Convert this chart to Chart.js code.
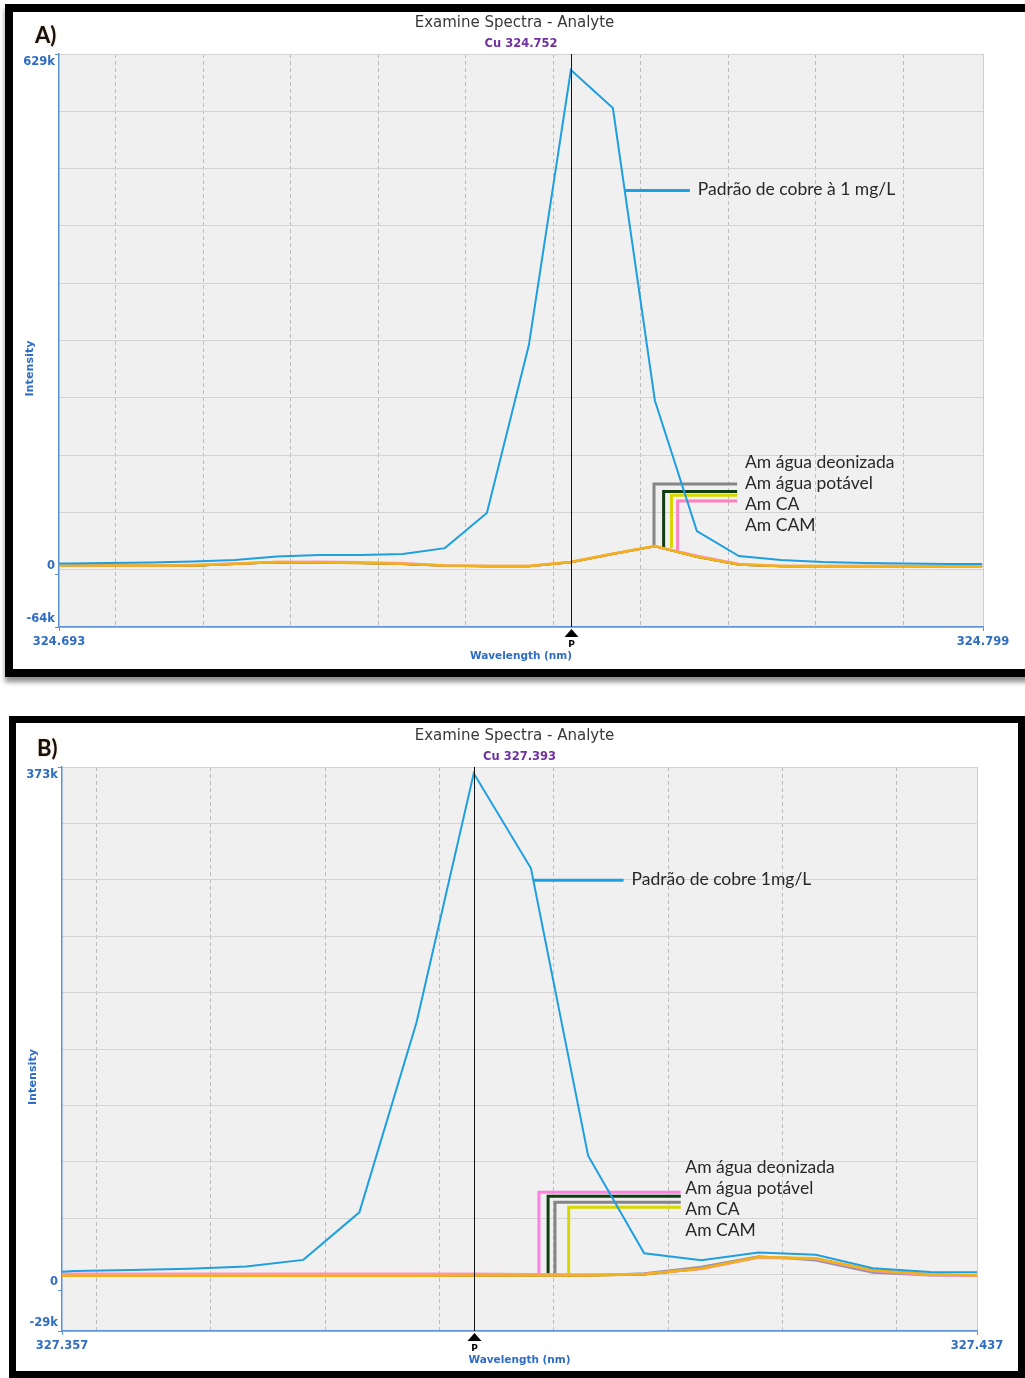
<!DOCTYPE html>
<html>
<head>
<meta charset="utf-8">
<title>Examine Spectra - Analyte</title>
<script src="https://cdn.jsdelivr.net/npm/chart.js@4.4.1/dist/chart.umd.min.js"></script>
<style>
  html, body { margin: 0; padding: 0; background: #fff; }
  #page { position: relative; width: 1025px; height: 1378px; overflow: hidden; background: #fff; }
  .frame { position: absolute; box-sizing: border-box; border: 8px solid #000; background: #fff; }
  #frameA { left: 5px; top: 4px; width: 1040px; height: 673px; box-shadow: 0 5px 5px rgba(0,0,0,0.45); }
  #frameB { left: 9px; top: 716px; width: 1016px; height: 662px; border-width: 7px; }
  canvas { position: absolute; left: 0; }
  #chartA { top: 0; }
  #chartB { top: 690px; }
</style>
</head>
<body>
<div id="page">
  <div class="frame" id="frameA"></div>
  <div class="frame" id="frameB"></div>
  <canvas id="chartA" width="1025" height="690"></canvas>
  <canvas id="chartB" width="1025" height="688"></canvas>
</div>
<script>
// ---------- Panel A : Cu 324.752 nm ----------
const waveA = [324.6930, 324.6944, 324.6992, 324.7040, 324.7088, 324.7136, 324.7184, 324.7232,
               324.7280, 324.7328, 324.7376, 324.7424, 324.7472, 324.7520, 324.7568, 324.7616,
               324.7664, 324.7712, 324.7760, 324.7808, 324.7856, 324.7904, 324.7952, 324.7990];
const padraoA = [12700, 12700, 13300, 13900, 15100, 16900, 21200, 23000,
                 23000, 24200, 31400, 73800, 277000, 609600, 563600, 210000,
                 52000, 21800, 16900, 14500, 13300, 12700, 12100, 12100];
const deonizadaA = [10000, 10000, 10000, 10000, 10000, 12200, 14200, 13600,
                    13200, 12200, 10000, 9400, 9400, 14200, 24200, 33600,
                    20700, 11200, 9400, 9400, 9400, 9400, 9400, 9400];
const potavelA = [10100, 10100, 10100, 10100, 10100, 12300, 14300, 13700,
                  13300, 12300, 10100, 9500, 9500, 14300, 24300, 33700,
                  20800, 11300, 9500, 9500, 9500, 9500, 9500, 9500];
const caA = [10300, 10300, 10300, 10300, 10300, 12500, 14500, 13900,
             13500, 12500, 10300, 9700, 9700, 14500, 24500, 33900,
             21000, 11500, 9700, 9700, 9700, 9700, 9700, 9700];
const camA = [10300, 10300, 10300, 10300, 11000, 12800, 14700, 14800,
              14300, 13000, 10500, 9700, 9700, 14500, 24500, 33600,
              22200, 12100, 9800, 9700, 9700, 9700, 9700, 9700];
const xRangeA = [324.6935, 324.7991];
const xLabelsA = ['324.693', '324.799'];
const xGridA = [324.70, 324.71, 324.72, 324.73, 324.74, 324.75, 324.76, 324.77, 324.78, 324.79];
const yTicksA = [-64000, 0, 629000];
const yLabelsA = ['-64k', '0', '629k'];

// ---------- Panel B : Cu 327.393 nm ----------
const waveB = [327.3570, 327.3581, 327.3631, 327.3681, 327.3731, 327.3781, 327.3830, 327.3880, 327.3930,
               327.3980, 327.4030, 327.4079, 327.4129, 327.4179, 327.4229, 327.4279, 327.4329, 327.4370];
const padraoB = [13200, 13700, 14500, 15300, 17000, 21700, 55600, 191000, 368500,
                 300800, 96000, 26400, 21400, 26900, 25400, 15700, 13000, 12800];
const deonizadaB = [11800, 11800, 11800, 11800, 11800, 11800, 11800, 11800, 11800,
                    11500, 11200, 11600, 15200, 23300, 22500, 13900, 11000, 10500];
const potavelB = [10200, 10200, 10200, 10200, 10200, 10200, 10200, 10200, 10400,
                  10500, 10500, 11300, 15400, 23600, 22600, 14100, 11200, 10600];
const caB = [10200, 10200, 10200, 10200, 10200, 10200, 10200, 10200, 10400,
             10500, 10600, 12200, 16800, 24200, 21200, 12600, 10500, 10300];
const camB = [10300, 10300, 10300, 10300, 10300, 10300, 10300, 10300, 10500,
              10600, 10600, 11400, 15500, 23700, 22800, 14300, 11400, 10700];
const xRangeB = [327.357, 327.437];
const xLabelsB = ['327.357', '327.437'];
const xGridB = [327.36, 327.37, 327.38, 327.39, 327.40, 327.41, 327.42, 327.43];
const yTicksB = [-29000, 0, 373000];
const yLabelsB = ['-29k', '0', '373k'];

// ---------- shared styling ----------
const AXIS_BLUE = '#5b92d6';
const LABEL_BLUE = '#2f6cc4';
const FAMILY = '"DejaVu Sans", Verdana, sans-serif';
const TICK_FONT = { family: FAMILY, weight: 'bold', size: 11.5, lineHeight: 1.4 };
const NOTE_FONT = '17.5px Lato, "Open Sans", sans-serif';

function toPoints(xs, ys) { return xs.map((x, i) => ({ x: x, y: ys[i] })); }

function decor(p) {
  return {
    id: 'decor',
    beforeDraw(chart) {
      const { ctx, chartArea: a } = chart;
      ctx.save();
      ctx.fillStyle = '#f0f0f0';
      ctx.fillRect(a.left, a.top, a.right - a.left, a.bottom - a.top);
      ctx.strokeStyle = '#cfcfcf';
      ctx.lineWidth = 1;
      ctx.beginPath();
      ctx.moveTo(Math.round(a.right) + 0.5, a.top);
      ctx.lineTo(Math.round(a.right) + 0.5, a.bottom);
      ctx.stroke();
      ctx.restore();
    },
    beforeDatasetsDraw(chart) {
      // leader lines from the notes to the curves
      const { ctx, scales } = chart;
      const X = v => scales.x.getPixelForValue(v);
      const Y = v => scales.y.getPixelForValue(v);
      ctx.save();
      ctx.lineWidth = 3;
      ctx.lineJoin = 'miter';
      ctx.lineCap = 'butt';
      ctx.strokeStyle = p.callout.color;
      ctx.beginPath();
      ctx.moveTo(X(p.callout.from), Y(p.callout.y));
      ctx.lineTo(X(p.callout.to), Y(p.callout.y));
      ctx.stroke();
      p.brackets.forEach(b => {
        ctx.strokeStyle = b.color;
        ctx.beginPath();
        ctx.moveTo(X(b.x), Y(b.low));
        ctx.lineTo(X(b.x), Y(b.top));
        ctx.lineTo(X(b.xEnd), Y(b.top));
        ctx.stroke();
      });
      ctx.restore();
    },
    afterDatasetsDraw(chart) {
      const { ctx, chartArea: a, scales } = chart;
      const px = Math.round(scales.x.getPixelForValue(p.peak)) + 0.5;
      ctx.save();
      ctx.strokeStyle = '#111';
      ctx.lineWidth = 1;
      ctx.beginPath();
      ctx.moveTo(px, a.top);
      ctx.lineTo(px, a.bottom);
      ctx.stroke();
      ctx.fillStyle = '#000';
      ctx.beginPath();
      ctx.moveTo(px, a.bottom + 2);
      ctx.lineTo(px - 7, a.bottom + 10);
      ctx.lineTo(px + 7, a.bottom + 10);
      ctx.closePath();
      ctx.fill();
      ctx.font = 'bold 9px ' + FAMILY;
      ctx.textAlign = 'center';
      ctx.textBaseline = 'middle';
      ctx.fillText('P', px, a.bottom + 17.5);
      ctx.restore();
    },
    afterDraw(chart) {
      const { ctx, chartArea: a, scales } = chart;
      const X = v => scales.x.getPixelForValue(v);
      const Y = v => scales.y.getPixelForValue(v);
      ctx.save();
      ctx.textBaseline = 'middle';
      // header
      ctx.textAlign = 'center';
      ctx.fillStyle = '#383838';
      ctx.font = '15px ' + FAMILY;
      ctx.fillText('Examine Spectra - Analyte', 514.5, a.top - 31);
      ctx.fillStyle = '#7030a0';
      ctx.font = 'bold 11.5px ' + FAMILY;
      ctx.fillText(p.cuLabel, (a.left + a.right) / 2, a.top - 9.5);
      // panel letter
      ctx.textAlign = 'left';
      ctx.fillStyle = '#111';
      ctx.shadowColor = 'rgba(230,140,40,0.55)';
      ctx.shadowBlur = 2;
      ctx.font = 'bold 22px Lato, "Open Sans", sans-serif';
      ctx.fillText(p.letter, p.letterX, a.top - 18);
      ctx.shadowColor = 'transparent';
      ctx.shadowBlur = 0;
      // y axis name
      ctx.save();
      ctx.translate(a.left - 28.5, (a.top + a.bottom) / 2 + 28);
      ctx.rotate(-Math.PI / 2);
      ctx.textAlign = 'center';
      ctx.fillStyle = LABEL_BLUE;
      ctx.font = 'bold 11.2px ' + FAMILY;
      ctx.fillText('Intensity', 0, 0);
      ctx.restore();
      // notes
      ctx.textAlign = 'left';
      ctx.fillStyle = '#282828';
      ctx.font = NOTE_FONT;
      ctx.fillText(p.callout.text, X(p.callout.textX), Y(p.callout.y) - 1);
      p.notes.forEach(n => ctx.fillText(n.text, X(n.x), Y(n.y)));
      ctx.restore();
    }
  };
}

function makeChart(id, p) {
  const ySides = { min: p.yTicks[0], max: p.yTicks[p.yTicks.length - 1] };
  const xSides = { min: p.xRange[0], max: p.xRange[1] };
  return new Chart(document.getElementById(id), {
    type: 'line',
    data: {
      datasets: p.series.map(s => ({
        label: s.label,
        data: toPoints(p.wave, s.values),
        borderColor: s.color,
        borderWidth: s.width,
        pointRadius: 0,
        tension: 0,
        fill: false,
        xAxisID: 'x',
        yAxisID: 'y'
      }))
    },
    options: {
      responsive: false,
      animation: false,
      devicePixelRatio: 1,
      layout: { padding: p.padding },
      plugins: { legend: { display: false }, tooltip: { enabled: false }, title: { display: false } },
      scales: {
        x: {
          type: 'linear', position: 'bottom', min: xSides.min, max: xSides.max,
          afterBuildTicks: s => { s.ticks = p.xRange.map(v => ({ value: v })); },
          afterFit: s => { s.height = 36; },
          ticks: {
            callback: v => p.xLabels[p.xRange.indexOf(v)],
            font: { family: FAMILY, weight: 'bold', size: 11.5, lineHeight: 1.2 }, color: LABEL_BLUE,
            padding: 4, maxRotation: 0, autoSkip: false
          },
          grid: { drawOnChartArea: false, drawTicks: true, tickLength: 4, color: AXIS_BLUE },
          border: { display: true, color: AXIS_BLUE, width: 1.5 },
          title: {
            display: true, text: 'Wavelength (nm)', color: LABEL_BLUE,
            font: { family: FAMILY, weight: 'bold', size: 10.5, lineHeight: 1.2 },
            padding: { top: 0, bottom: 0 }
          }
        },
        y: {
          type: 'linear', position: 'left', min: ySides.min, max: ySides.max,
          afterBuildTicks: s => { s.ticks = p.yTicks.map(v => ({ value: v })); },
          afterFit: s => { s.width = 40; },
          ticks: {
            callback: v => {
              const lbl = p.yLabels[p.yTicks.indexOf(v)];
              return v === ySides.max ? ['', lbl] : [lbl, ''];
            },
            font: TICK_FONT, color: LABEL_BLUE, padding: 0, autoSkip: false
          },
          grid: { drawOnChartArea: false, drawTicks: true, tickLength: 4, color: AXIS_BLUE },
          border: { display: true, color: AXIS_BLUE, width: 1.5 }
        },
        xg: {
          type: 'linear', position: 'bottom', min: xSides.min, max: xSides.max,
          afterBuildTicks: s => { s.ticks = p.xGrid.map(v => ({ value: v })); },
          afterFit: s => { s.height = 0; },
          ticks: { display: false },
          grid: { drawTicks: false, color: '#bcbcbc', lineWidth: 1 },
          border: { display: false, dash: [4, 3] }
        },
        yg: {
          type: 'linear', position: 'left', min: ySides.min, max: ySides.max,
          afterBuildTicks: s => {
            const t = [];
            for (let i = 0; i <= 10; i++) t.push({ value: s.min + (s.max - s.min) * i / 10 });
            s.ticks = t;
          },
          afterFit: s => { s.width = 0; },
          ticks: { display: false },
          grid: { drawTicks: false, color: '#d3d3d3', lineWidth: 1 },
          border: { display: false }
        }
      }
    },
    plugins: [decor(p)]
  });
}

makeChart('chartA', {
  wave: waveA, xRange: xRangeA, xLabels: xLabelsA, xGrid: xGridA, yTicks: yTicksA, yLabels: yLabelsA,
  padding: { left: 19, top: 54, right: 42, bottom: 27 },
  peak: 324.752, cuLabel: 'Cu 324.752', letter: 'A)', letterX: 35,
  series: [
    { label: 'Padrão de cobre à 1 mg/L', values: padraoA, color: '#1e9fe0', width: 2 },
    { label: 'Am CA', values: caA, color: '#f2b212', width: 2.5 },
    { label: 'Am CAM', values: camA, color: '#ff90c8', width: 2.5 },
    { label: 'Am água deonizada', values: deonizadaA, color: '#8a8a8a', width: 2 },
    { label: 'Am água potável', values: potavelA, color: '#1d4a1d', width: 2 }
  ],
  callout: { text: 'Padrão de cobre à 1 mg/L', color: '#1e9fe0', from: 324.7582, to: 324.7656, textX: 324.7665, y: 464000 },
  brackets: [
    { color: '#858585', x: 324.7615, low: 32700, top: 108900, xEnd: 324.7710 },
    { color: '#123d12', x: 324.7626, low: 32700, top: 99800, xEnd: 324.7710 },
    { color: '#d6d600', x: 324.7635, low: 31500, top: 95200, xEnd: 324.7710 },
    { color: '#ff80c0', x: 324.7642, low: 29000, top: 88300, xEnd: 324.7710 }
  ],
  notes: [
    { text: 'Am água deonizada', x: 324.7719, y: 135500 },
    { text: 'Am água potável', x: 324.7719, y: 110000 },
    { text: 'Am CA', x: 324.7719, y: 84700 },
    { text: 'Am CAM', x: 324.7719, y: 59300 }
  ]
});

makeChart('chartB', {
  wave: waveB, xRange: xRangeB, xLabels: xLabelsB, xGrid: xGridB, yTicks: yTicksB, yLabels: yLabelsB,
  padding: { left: 22, top: 77, right: 48, bottom: 11 },
  peak: 327.393, cuLabel: 'Cu 327.393', letter: 'B)', letterX: 37,
  series: [
    { label: 'Padrão de cobre 1mg/L', values: padraoB, color: '#1e9fe0', width: 2 },
    { label: 'Am CAM', values: camB, color: '#f2b212', width: 2.5 },
    { label: 'Am água deonizada', values: deonizadaB, color: '#ff90c8', width: 2.5 },
    { label: 'Am CA', values: caB, color: '#9a90ac', width: 2 },
    { label: 'Am água potável', values: potavelB, color: '#1d4a1d', width: 2 }
  ],
  callout: { text: 'Padrão de cobre 1mg/L', color: '#1e9fe0', from: 327.3982, to: 327.4061, textX: 327.4068, y: 292200 },
  brackets: [
    { color: '#ff80e0', x: 327.3987, low: 11400, top: 69900, xEnd: 327.4111 },
    { color: '#123d12', x: 327.3995, low: 11400, top: 67000, xEnd: 327.4111 },
    { color: '#858585', x: 327.4001, low: 11400, top: 62700, xEnd: 327.4111 },
    { color: '#d6d600', x: 327.4013, low: 9300, top: 59200, xEnd: 327.4111 }
  ],
  notes: [
    { text: 'Am água deonizada', x: 327.4115, y: 87700 },
    { text: 'Am água potável', x: 327.4115, y: 72700 },
    { text: 'Am CA', x: 327.4115, y: 57700 },
    { text: 'Am CAM', x: 327.4115, y: 42800 }
  ]
});
</script>
</body>
</html>
